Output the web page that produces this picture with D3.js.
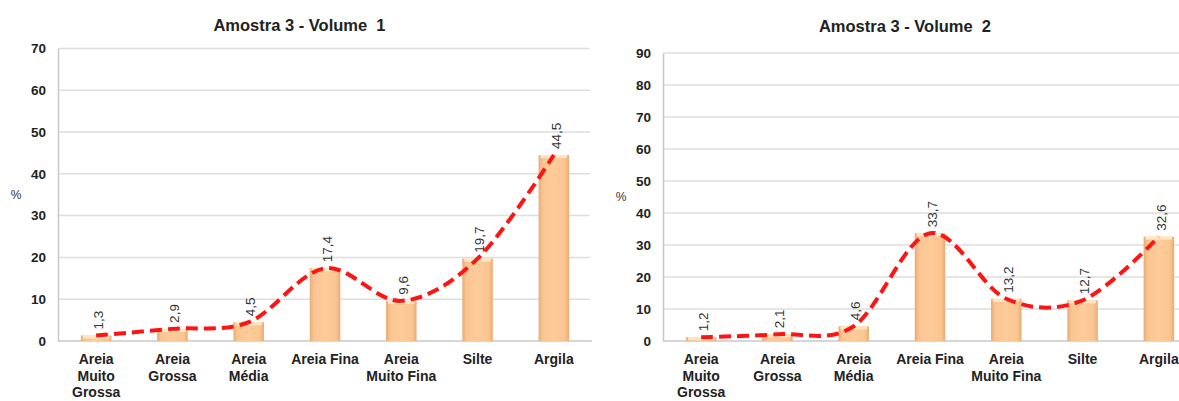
<!DOCTYPE html>
<html>
<head>
<meta charset="utf-8">
<script src="https://cdn.jsdelivr.net/npm/d3@7"></script>
<style>
  html, body { margin: 0; padding: 0; background: #fff; }
  svg { display: block; }
  text { font-family: "Liberation Sans", Arial, sans-serif; }
</style>
</head>
<body>
<svg id="chart" width="1179" height="401"></svg>
<script>
const categories = ["Areia Muito Grossa", "Areia Grossa", "Areia Média", "Areia Fina", "Areia Muito Fina", "Silte", "Argila"];
const categoryLines = [["Areia", "Muito", "Grossa"], ["Areia", "Grossa"], ["Areia", "Média"], ["Areia Fina"], ["Areia", "Muito Fina"], ["Silte"], ["Argila"]];
const volume1 = [1.3, 2.9, 4.5, 17.4, 9.6, 19.7, 44.5];
const volume2 = [1.2, 2.1, 4.6, 33.7, 13.2, 12.7, 32.6];
const ticks1 = [0, 10, 20, 30, 40, 50, 60, 70];
const ticks2 = [0, 10, 20, 30, 40, 50, 60, 70, 80, 90];
const titles = ["Amostra 3 - Volume  1", "Amostra 3 - Volume  2"];
const axisTitle = "%";

const svg = d3.select("#chart");
const defs = svg.append("defs");
const grad = defs.append("linearGradient").attr("id", "barGrad")
  .attr("x1", "0%").attr("x2", "100%").attr("y1", "0%").attr("y2", "0%");
grad.append("stop").attr("offset", "0%").attr("stop-color", "#e9ab76");
grad.append("stop").attr("offset", "14%").attr("stop-color", "#fbc591");
grad.append("stop").attr("offset", "50%").attr("stop-color", "#fdcc9a");
grad.append("stop").attr("offset", "86%").attr("stop-color", "#fbc591");
grad.append("stop").attr("offset", "100%").attr("stop-color", "#e9ab76");

function drawChart(cfg) {
  const g = svg.append("g");
  const x = d3.scaleBand().domain(categories).range([cfg.left, cfg.left + 534]).paddingInner(0.6).paddingOuter(0.3);
  const y = d3.scaleLinear().domain([0, cfg.max]).range([341, cfg.top]);

  // gridlines
  g.append("g").selectAll("line").data(cfg.ticks.filter(t => t > 0)).join("line")
    .attr("x1", cfg.left).attr("x2", cfg.left + 532)
    .attr("y1", d => y(d)).attr("y2", d => y(d))
    .attr("stroke", "#dedede").attr("stroke-width", 1.5);

  // y axis
  const yAxis = d3.axisLeft(y).tickValues(cfg.ticks).tickSize(0).tickPadding(12).tickFormat(d3.format("d"));
  const ya = g.append("g").attr("transform", `translate(${cfg.left},0)`).call(yAxis);
  ya.select(".domain").attr("stroke", "#c8c8c8").attr("stroke-width", 1.5);
  ya.selectAll("text").attr("font-size", 13.5).attr("font-weight", "bold").attr("fill", "#222")
    .attr("font-family", "Liberation Sans, Arial, sans-serif");

  // x axis baseline
  g.append("line").attr("x1", cfg.left).attr("x2", cfg.left + 534)
    .attr("y1", y(0)).attr("y2", y(0)).attr("stroke", "#c8c8c8").attr("stroke-width", 1.5);

  // bars
  const data = categories.map((c, i) => ({ c, v: cfg.values[i] }));
  g.append("g").selectAll("rect").data(data).join("rect")
    .attr("x", d => x(d.c)).attr("width", x.bandwidth())
    .attr("y", d => y(d.v)).attr("height", d => y(0) - y(d.v))
    .attr("fill", "url(#barGrad)");
  g.append("g").selectAll("rect").data(data).join("rect")
    .attr("x", d => x(d.c) + 2).attr("width", x.bandwidth() - 4)
    .attr("y", d => y(d.v)).attr("height", d => Math.min(3, y(0) - y(d.v)))
    .attr("fill", "#fee6c0");

  // data labels
  const fmt = v => d3.format(".1f")(v).replace(".", ",");
  g.append("g").selectAll("text").data(data).join("text")
    .attr("transform", d => `translate(${x(d.c) + x.bandwidth() / 2 + 2},${y(d.v) - 6}) rotate(-90)`)
    .attr("dy", "0.35em").attr("text-anchor", "start")
    .attr("font-size", 13.5).attr("fill", "#333")
    .text(d => fmt(d.v));

  // smoothed dashed line
  const line = d3.line().x(d => x(d.c) + x.bandwidth() / 2).y(d => y(d.v)).curve(d3.curveCardinal.tension(0));
  g.append("path").datum(data).attr("d", line)
    .attr("fill", "none").attr("stroke", "#ff1414").attr("stroke-width", 4)
    .attr("stroke-dasharray", "12,6");

  // category labels
  const cl = g.append("g").selectAll("text").data(data).join("text")
    .attr("x", d => x(d.c) + x.bandwidth() / 2).attr("y", 364)
    .attr("text-anchor", "middle").attr("font-size", 14).attr("font-weight", "bold").attr("fill", "#222");
  cl.selectAll("tspan").data((d, i) => categoryLines[i]).join("tspan")
    .attr("x", function () { return d3.select(this.parentNode).attr("x"); })
    .attr("dy", (d, i) => i === 0 ? 0 : 16.5)
    .text(d => d);

  // title
  g.append("text").attr("x", cfg.titleX).attr("y", cfg.titleY).attr("text-anchor", "middle")
    .attr("font-size", 16.5).attr("font-weight", "bold").attr("fill", "#222")
    .attr("xml:space", "preserve").style("white-space", "pre")
    .text(cfg.title);

  // axis title
  g.append("text").attr("x", cfg.left - 42).attr("y", cfg.pctY)
    .attr("text-anchor", "middle").attr("dy", "0.35em").attr("font-size", 12).attr("fill", "#333")
    .text(axisTitle);
}

drawChart({ left: 58, top: 48.4, max: 70, ticks: ticks1, values: volume1, title: titles[0], titleX: 299.5, titleY: 31, pctY: 195 });
drawChart({ left: 663, top: 53, max: 90, ticks: ticks2, values: volume2, title: titles[1], titleX: 905, titleY: 32, pctY: 197 });
</script>
</body>
</html>
